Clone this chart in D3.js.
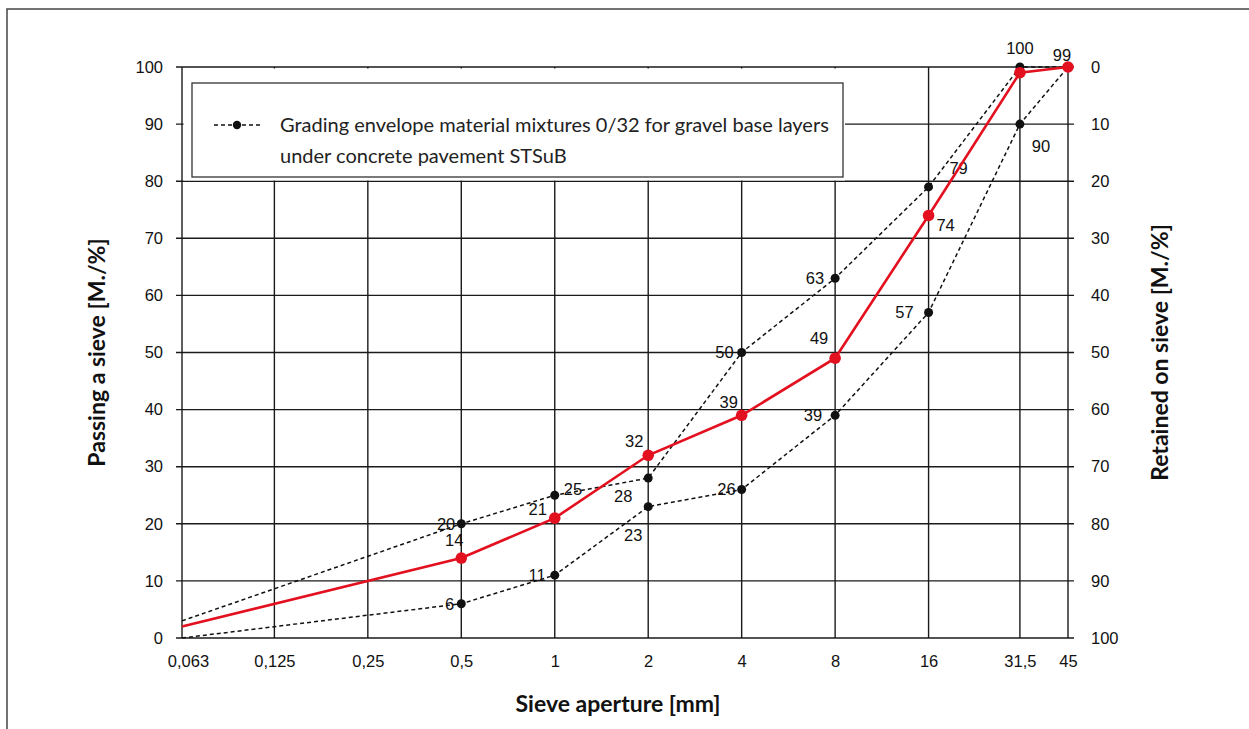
<!DOCTYPE html>
<html>
<head>
<meta charset="utf-8">
<script src="https://cdn.jsdelivr.net/npm/d3@7"></script>
<style>
  body { margin: 0; background: #fff; }
  svg { display: block; }
  .tick-label { font-family: "Liberation Sans", Arial, sans-serif; font-size: 16.5px; fill: #111; }
  .pt-label { font-family: "Liberation Sans", Arial, sans-serif; font-size: 16.5px; fill: #111; }
  .title { font-family: Lato, "Open Sans", sans-serif; font-weight: bold; font-size: 23px; fill: #111; }
  .legend-text { font-family: Lato, "Open Sans", sans-serif; font-size: 20px; fill: #222; }
</style>
</head>
<body>
<svg id="chart" width="1249" height="729"></svg>
<script>
// sieve sizes [mm]
const sieves = [0.063, 0.5, 1, 2, 4, 8, 16, 31.5, 45];
const sieveTicks = [0.063, 0.125, 0.25, 0.5, 1, 2, 4, 8, 16, 31.5, 45];
const sieveTickLabels = ["0,063", "0,125", "0,25", "0,5", "1", "2", "4", "8", "16", "31,5", "45"];
const passTicks = [0, 10, 20, 30, 40, 50, 60, 70, 80, 90, 100];

// passing [M./%]
const upperEnvelope = [3, 20, 25, 28, 50, 63, 79, 100, 100];
const lowerEnvelope = [0, 6, 11, 23, 26, 39, 57, 90, 100];
const mixture = [2, 14, 21, 32, 39, 49, 74, 99, 100];

const legendLines = [
  "Grading envelope material mixtures 0/32 for gravel base layers",
  "under concrete pavement STSuB"
];

// where each point label sits relative to its dot (index into sieves)
const upperLabelPos = { 1: [-6, 0, "end"], 2: [9, -6, "start"], 3: [-25, 18, "middle"], 4: [-8, 0, "end"], 5: [-11, 0, "end"], 6: [30, -19, "middle"], 7: [0, -19, "middle"] };
const lowerLabelPos = { 1: [-7, 0, "end"], 2: [-9, 0, "end"], 3: [-15, 28, "middle"], 4: [-6, 0, "end"], 5: [-13, 0, "end"], 6: [-15, 0, "end"], 7: [21, 22, "middle"] };
const mixtureLabelPos = { 1: [-7, -18, "middle"], 2: [-17, -9, "middle"], 3: [-14, -14, "middle"], 4: [-13, -13, "middle"], 5: [-16, -20, "middle"], 6: [17, 10, "middle"], 7: [42, -18, "middle"] };

const svg = d3.select("#chart");
const plotLeft = 182, plotRight = 1068, plotTop = 67, plotBottom = 638;
const RED = "#e3101f";

// outer frame
svg.append("rect")
  .attr("x", 7).attr("y", 9).attr("width", 1260).attr("height", 740)
  .attr("fill", "none").attr("stroke", "#444").attr("stroke-width", 1.5);

const x = d3.scaleLog().domain([0.063, 45]).range([plotLeft, plotRight]);
const y = d3.scaleLinear().domain([0, 100]).range([plotBottom, plotTop]);
const yRight = d3.scaleLinear().domain([100, 0]).range([plotBottom, plotTop]);

// grid
const grid = svg.append("g").attr("stroke", "#1a1a1a").attr("stroke-width", 1.4);
grid.selectAll(".hline")
  .data(passTicks)
  .enter()
  .append("line")
  .attr("x1", plotLeft - 6).attr("x2", plotRight + 6)
  .attr("y1", (d) => y(d)).attr("y2", (d) => y(d));
grid.selectAll(".vline")
  .data(sieveTicks)
  .enter()
  .append("line")
  .attr("x1", (d) => x(d)).attr("x2", (d) => x(d))
  .attr("y1", plotTop).attr("y2", plotBottom);

// axes (labels only, lines come from the grid)
const leftAxis = svg.append("g")
  .attr("transform", `translate(${plotLeft},0)`)
  .call(d3.axisLeft(y).tickValues(passTicks).tickSize(0).tickPadding(19));
const rightAxis = svg.append("g")
  .attr("transform", `translate(${plotRight},0)`)
  .call(d3.axisRight(yRight).tickValues(passTicks).tickSize(0).tickPadding(23));
const bottomAxis = svg.append("g")
  .attr("transform", `translate(0,${plotBottom})`)
  .call(d3.axisBottom(x).tickValues(sieveTicks).tickSize(0).tickPadding(17)
    .tickFormat((d, i) => sieveTickLabels[i]));
[leftAxis, rightAxis, bottomAxis].forEach((a) => {
  a.select(".domain").remove();
  a.attr("font-size", null).attr("font-family", null);
  a.selectAll("text").attr("class", "tick-label");
});
bottomAxis.selectAll("text").filter((d) => d === 0.063).attr("dx", 6);

// legend box (covers grid)
svg.append("rect")
  .attr("x", plotLeft + 1.5).attr("y", plotTop + 1.5)
  .attr("width", 845 - plotLeft - 1.5).attr("height", y(80) - plotTop - 2.2)
  .attr("fill", "#fff");
svg.append("rect")
  .attr("x", 192).attr("y", 83).attr("width", 651).attr("height", 94)
  .attr("fill", "none").attr("stroke", "#333").attr("stroke-width", 1.3);
svg.append("line")
  .attr("x1", 214).attr("x2", 262).attr("y1", 125).attr("y2", 125)
  .attr("stroke", "#111").attr("stroke-width", 1.4).attr("stroke-dasharray", "4,3");
svg.append("circle").attr("cx", 237).attr("cy", 125).attr("r", 4.2).attr("fill", "#111");
svg.selectAll(".legend-text")
  .data(legendLines)
  .enter()
  .append("text")
  .attr("class", "legend-text")
  .attr("x", 280)
  .attr("y", (d, i) => 132 + i * 31)
  .text((d) => d);

// series
const line = d3.line().x((d) => x(d[0])).y((d) => y(d[1]));

function drawSeries(values, color, width, dash, radius, labelPos) {
  const pts = sieves.map((s, i) => [s, values[i]]);
  svg.append("path")
    .datum(pts)
    .attr("d", line)
    .attr("fill", "none")
    .attr("stroke", color)
    .attr("stroke-width", width)
    .attr("stroke-dasharray", dash);
  svg.append("g")
    .selectAll("circle")
    .data(pts.slice(1))
    .enter()
    .append("circle")
    .attr("cx", (d) => x(d[0]))
    .attr("cy", (d) => y(d[1]))
    .attr("r", radius)
    .attr("fill", color);
  svg.append("g")
    .selectAll("text")
    .data(pts.map((d, i) => ({ d, i })).filter((p) => labelPos[p.i]))
    .enter()
    .append("text")
    .attr("class", "pt-label")
    .attr("x", (p) => x(p.d[0]) + labelPos[p.i][0])
    .attr("y", (p) => y(p.d[1]) + labelPos[p.i][1])
    .attr("dy", "0.36em")
    .attr("text-anchor", (p) => labelPos[p.i][2])
    .text((p) => p.d[1]);
}

drawSeries(upperEnvelope, "#111", 1.5, "4,3", 4.5, upperLabelPos);
drawSeries(lowerEnvelope, "#111", 1.5, "4,3", 4.5, lowerLabelPos);
drawSeries(mixture, RED, 2.6, null, 5.8, mixtureLabelPos);

// axis titles
svg.append("text")
  .attr("class", "title")
  .attr("transform", `translate(105,${(plotTop + plotBottom) / 2}) rotate(-90)`)
  .attr("text-anchor", "middle")
  .text("Passing a sieve [M./%]");
svg.append("text")
  .attr("class", "title")
  .attr("transform", `translate(1168,${(plotTop + plotBottom) / 2}) rotate(-90)`)
  .attr("text-anchor", "middle")
  .text("Retained on sieve [M./%]");
svg.append("text")
  .attr("class", "title")
  .attr("x", 618)
  .attr("y", 712)
  .attr("text-anchor", "middle")
  .text("Sieve aperture [mm]");
</script>
</body>
</html>
